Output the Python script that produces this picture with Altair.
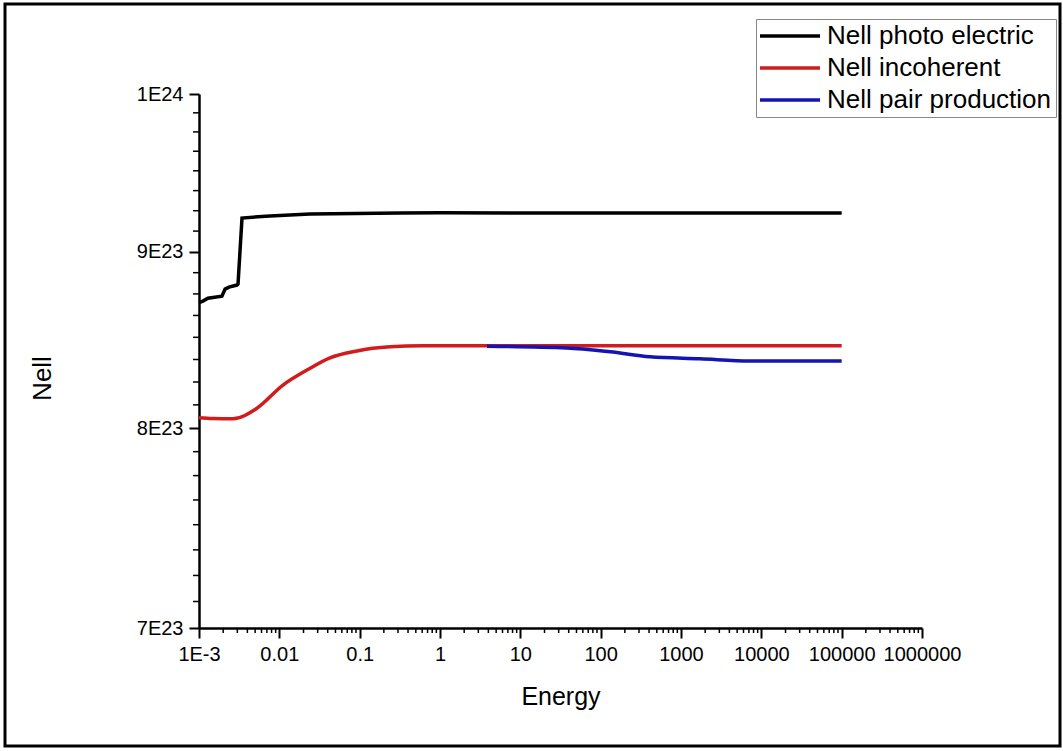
import altair as alt
import pandas as pd

# ---- data ----
series_names = ["Nell photo electric", "Nell incoherent", "Nell pair production"]
series_colors = ["#000000", "#d01c1c", "#1414b4"]

photo_energy = [1e-3, 1.12e-3, 1.29e-3, 1.93e-3, 2.11e-3, 2.36e-3, 2.97e-3, 3.06e-3,
                3.43e-3, 7.65e-3, 2.41e-2, 0.318, 1.0, 100.0, 1e5]
photo_value = [8.70e23, 8.708e23, 8.725e23, 8.737e23, 8.778e23, 8.79e23, 8.802e23, 8.808e23,
               9.205e23, 9.218e23, 9.23e23, 9.236e23, 9.237e23, 9.236e23, 9.236e23]

incoh_energy = [1e-3, 1.5e-3, 2.65e-3, 5.27e-3, 1.11e-2, 2.21e-2, 4.27e-2, 9.27e-2,
                0.239, 0.614, 3.63, 100.0, 1e5]
incoh_value = [8.056e23, 8.052e23, 8.05e23, 8.107e23, 8.233e23, 8.316e23, 8.384e23, 8.423e23,
               8.446e23, 8.452e23, 8.452e23, 8.452e23, 8.452e23]

pair_energy = [3.85, 38.0, 131.0, 411.0, 1726.0, 7230.0, 1e5]
pair_value = [8.45e23, 8.44e23, 8.418e23, 8.39e23, 8.379e23, 8.367e23, 8.367e23]

x_tick_values = [1e-3, 1e-2, 1e-1, 1, 10, 100, 1000, 10000, 100000, 1000000]
x_tick_labels = ["1E-3", "0.01", "0.1", "1", "10", "100", "1000", "10000", "100000", "1000000"]
y_tick_values = [7e23, 8e23, 9e23, 1e24]
y_tick_labels = ["7E23", "8E23", "9E23", "1E24"]

x_minor = [m * 10.0 ** k for k in range(-3, 6) for m in range(2, 10)]
y_minor = [7e23 + i * 1.25e22 for i in range(1, 24) if i % 8 != 0]

W, H = 723, 534
FONT = "Liberation Sans"

photo_df = pd.DataFrame({"energy": photo_energy, "nell": photo_value, "series": series_names[0]})
incoh_df = pd.DataFrame({"energy": incoh_energy, "nell": incoh_value, "series": series_names[1]})
pair_df = pd.DataFrame({"energy": pair_energy, "nell": pair_value, "series": series_names[2]})

x_label_expr = "[" + ",".join(f"'{s}'" for s in x_tick_labels) + "][round(log(datum.value)/LN10)+3]"
y_label_expr = "[" + ",".join(f"'{s}'" for s in y_tick_labels) + "][round(datum.value/1e23)-7]"

x_scale = alt.Scale(type="log", domain=[1e-3, 1e6], nice=False)
y_scale = alt.Scale(type="log", domain=[7e23, 1e24], nice=False, zero=False)

x_axis = alt.Axis(
    values=x_tick_values, labelExpr=x_label_expr, title="Energy", grid=False,
    tickSize=10, tickWidth=2, tickColor="black", domainWidth=2.5, domainColor="black",
    labelFontSize=20, labelFont=FONT, labelColor="black", labelPadding=6, labelFlush=False,
    labelOverlap=False, titleFontSize=25, titleFont=FONT, titleFontWeight="normal",
    titleColor="black", titleY=68, titleBaseline="middle")
y_axis = alt.Axis(
    values=y_tick_values, labelExpr=y_label_expr, title="Nell", grid=False,
    tickSize=10, tickWidth=2, tickColor="black", domainWidth=2.5, domainColor="black",
    labelFontSize=20, labelFont=FONT, labelColor="black", labelPadding=6, labelFlush=False,
    labelOverlap=False, titleFontSize=26, titleFont=FONT, titleFontWeight="normal",
    titleColor="black", titleX=-157, titleY=284, titleAngle=270, titleBaseline="middle",
    titleAlign="center")

x_enc = alt.X("energy:Q", scale=x_scale, axis=x_axis)
y_enc = alt.Y("nell:Q", scale=y_scale, axis=y_axis)

color_enc = alt.Color("series:N", scale=alt.Scale(domain=series_names, range=series_colors),
                      legend=alt.Legend(title=None, orient="none", legendX=557, legendY=-75,
                                        symbolType="M-1.3,0L4.7,0", symbolSize=400,
                                        symbolStrokeWidth=3.5, labelLimit=0,
                                        labelFontSize=26, labelFont=FONT, labelColor="black",
                                        labelOffset=41, rowPadding=6, padding=4,
                                        strokeColor="#888888", fillColor="white"))

photo_line = alt.Chart(photo_df).mark_line(strokeWidth=3.5, interpolate="linear").encode(
    x=x_enc, y=y_enc, color=color_enc)
incoh_line = alt.Chart(incoh_df).mark_line(strokeWidth=3.5, interpolate="monotone").encode(
    x=x_enc, y=y_enc, color=color_enc)
pair_line = alt.Chart(pair_df).mark_line(strokeWidth=3.5, interpolate="monotone").encode(
    x=x_enc, y=y_enc, color=color_enc)

x_minor_rules = alt.Chart(pd.DataFrame({"energy": x_minor})).mark_rule(
    color="black", strokeWidth=1.5).encode(
    x=x_enc, y=alt.value(H), y2=alt.value(H + 5))
y_minor_rules = alt.Chart(pd.DataFrame({"nell": y_minor})).mark_rule(
    color="black", strokeWidth=1.5).encode(
    y=y_enc, x=alt.value(-6), x2=alt.value(0))

border = alt.Chart(pd.DataFrame({"a": [0]})).mark_rect(
    fill=None, stroke="black", strokeWidth=3).encode(
    x=alt.value(-194), x2=alt.value(861), y=alt.value(-90), y2=alt.value(652))

chart = alt.layer(border, x_minor_rules, y_minor_rules, photo_line, incoh_line, pair_line).properties(
    width=W, height=H,
    autosize=alt.AutoSizeParams(type="none"),
    padding={"left": 199, "top": 94, "right": 141, "bottom": 123},
    background="white",
).configure_view(stroke=None)

chart.save("out.html", embed_options={"renderer": "svg", "actions": False})
